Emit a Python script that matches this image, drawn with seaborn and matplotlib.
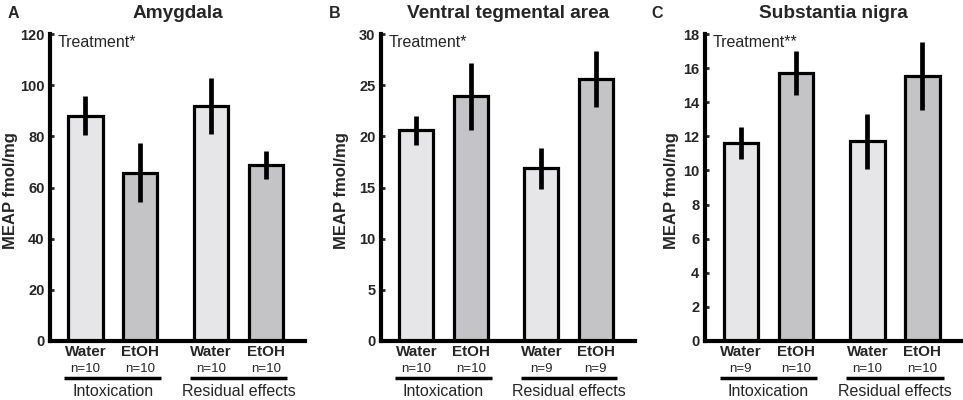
import matplotlib
matplotlib.use("Agg")
import matplotlib.pyplot as plt
import matplotlib.transforms as mtransforms
import seaborn as sns
import pandas as pd

sns.set_style("white")
plt.rcParams['font.family'] = ['Liberation Sans', 'DejaVu Sans']

phases = ["Intoxication", "Residual effects"]
treatments = ["Water", "EtOH"]

titles = ["Amygdala", "Ventral tegmental area", "Substantia nigra"]
letters = ["A", "B", "C"]
annotations = ["Treatment*", "Treatment*", "Treatment**"]
ylims = [120, 30, 18]
yticks_step = [20, 5, 2]

# means ordered: Intox-Water, Intox-EtOH, Resid-Water, Resid-EtOH
amyg_mean = [88.0, 65.8, 91.9, 68.8]
amyg_sem = [7.6, 11.5, 11.0, 5.6]
vta_mean = [20.6, 23.9, 16.9, 25.6]
vta_sem = [1.4, 3.3, 2.0, 2.7]
sn_mean = [11.6, 15.7, 11.7, 15.55]
sn_sem = [0.95, 1.3, 1.6, 2.0]

amyg_n = ["n=10", "n=10", "n=10", "n=10"]
vta_n = ["n=10", "n=10", "n=9", "n=9"]
sn_n = ["n=9", "n=10", "n=10", "n=10"]

means = [amyg_mean, vta_mean, sn_mean]
sems = [amyg_sem, vta_sem, sn_sem]
ns = [amyg_n, vta_n, sn_n]

bar_colors = {"Water": "#e6e6e8", "EtOH": "#c4c4c6"}

fig = plt.figure(figsize=(9.63, 4.0), dpi=100)
W, H = 963.0, 400.0
axes_px = [(50, 305), (381, 635), (705, 962)]
ylabel_right_px = [18, 349, 679]
letter_px = [13, 335, 657]
y_bot, y_top = 341.0, 34.0

for i in range(3):
    x0, x1 = axes_px[i]
    ax = fig.add_axes([x0 / W, 1 - y_bot / H, (x1 - x0) / W, (y_bot - y_top) / H])
    rows = []
    k = 0
    for p in phases:
        for t in treatments:
            m, s = means[i][k], sems[i][k]
            rows.append({"phase": p, "treatment": t, "value": m - s})
            rows.append({"phase": p, "treatment": t, "value": m + s})
            k += 1
    df = pd.DataFrame(rows)
    sns.barplot(data=df, x="phase", y="value", hue="treatment",
                order=phases, hue_order=treatments, palette=bar_colors,
                estimator="mean", errorbar=("pi", 100), capsize=0,
                width=0.87, gap=0.376, edgecolor="black", linewidth=2.3,
                err_kws={"color": "black", "linewidth": 3.4, "solid_capstyle": "butt"},
                legend=False, ax=ax)
    ax.set_xlim(-0.5, 1.53)
    ax.set_ylim(0, ylims[i])
    ax.set_yticks(list(range(0, ylims[i] + 1, yticks_step[i])))
    for lbl in ax.get_yticklabels():
        lbl.set_fontweight("bold")
    ax.tick_params(axis="y", direction="in", length=3, width=2, labelsize=10.5, pad=4, left=True)
    ax.tick_params(axis="x", length=0, labelsize=11, pad=3)
    for sp in ["top", "right"]:
        ax.spines[sp].set_visible(False)
    for sp in ["left", "bottom"]:
        ax.spines[sp].set_linewidth(3)
        ax.spines[sp].set_color("black")
    ax.set_ylabel("MEAP fmol/mg", fontsize=12, fontweight="bold")
    ax.yaxis.set_label_coords((ylabel_right_px[i] - x0) / (x1 - x0), 0.49)
    ax.set_xlabel("")

    bars = sorted([p for p in ax.patches if p.get_width() > 0 and p.get_height() > 0],
                  key=lambda p: p.get_x())
    centers = [b.get_x() + b.get_width() / 2 for b in bars]
    ax.set_xticks(centers)
    ax.set_xticklabels(treatments * 2, fontweight="bold")

    trans = mtransforms.blended_transform_factory(ax.transData, ax.transAxes)
    for c, nlab in zip(centers, ns[i]):
        ax.text(c, -0.092, nlab, transform=trans, ha="center", va="center", fontsize=9.5)
    for g in range(2):
        gc = (centers[2 * g] + centers[2 * g + 1]) / 2
        ax.plot([gc - 0.385, gc + 0.385], [-0.12, -0.12], transform=trans,
                color="black", linewidth=2.5, clip_on=False, solid_capstyle="butt")
        ax.text(gc, -0.166, phases[g], transform=trans, ha="center", va="center", fontsize=11.5)

    ax.text(8 / (x1 - x0), 1 - 8 / (y_bot - y_top), annotations[i], transform=ax.transAxes,
            ha="left", va="center", fontsize=11.5)
    ax.text(0.5, 1 + 21 / (y_bot - y_top), titles[i], transform=ax.transAxes,
            ha="center", va="center", fontsize=13.7, fontweight="bold")
    fig.text(letter_px[i] / W, 1 - 13 / H, letters[i], ha="center", va="center",
             fontsize=11.5, fontweight="bold")

fig.savefig("out.png", dpi=100)
